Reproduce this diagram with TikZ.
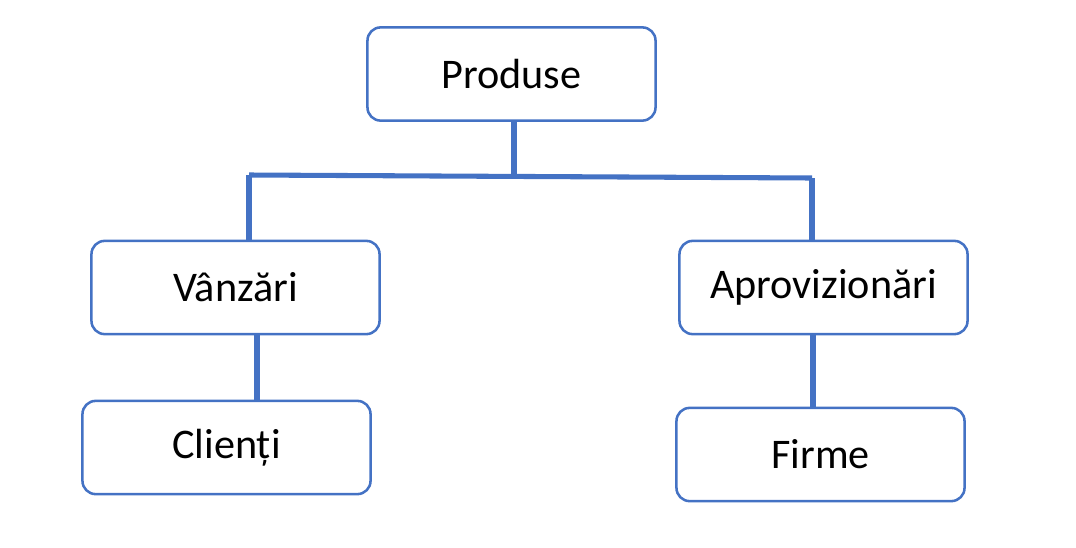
\documentclass[tikz,border=0pt]{standalone}
\usepackage{fontspec}
\setmainfont{Carlito}
\usepackage{tikz}
\usetikzlibrary{positioning}
\definecolor{boxblue}{HTML}{4472C4}

\begin{document}
\begin{tikzpicture}[
    x=0.025cm, y=-0.025cm,
    box/.style={draw=boxblue, line width=1.8pt, rounded corners=0.33cm, align=center,
        minimum width=7.2cm, minimum height=2.33cm, inner sep=0pt,
        font=\fontsize{30}{36}\selectfont},
    link/.style={draw=boxblue, line width=3.6pt}
]
\useasboundingbox (0,0) rectangle (1076,547);

% Nodes
\node[box] (prod) at (511.5,74) {Produse};
\node[box] (vanz) at (235.5,287.5) {Vânzări};
\node[box] (aprov) at (823.5,287.5) {Aprovizionări};
\node[box] (cli) at (226.5,447.5) {Clienți};
\node[box] (firme) at (820.5,454.5) {Firme};

% Lines
\coordinate (jm) at (514,176.5);
\coordinate (jl) at (249,175);
\coordinate (jr) at (812,178);
\coordinate (vc) at (257,0);
\coordinate (ac) at (813,0);
\draw[link] (prod.south -| jm) -- (jm);
\draw[link] (jl) -- (jr);
\draw[link] (jl) -- (jl |- vanz.north);
\draw[link] (jr) -- (jr |- aprov.north);
\draw[link] (vc |- vanz.south) -- (vc |- cli.north);
\draw[link] (ac |- aprov.south) -- (ac |- firme.north);

\end{tikzpicture}
\end{document}
